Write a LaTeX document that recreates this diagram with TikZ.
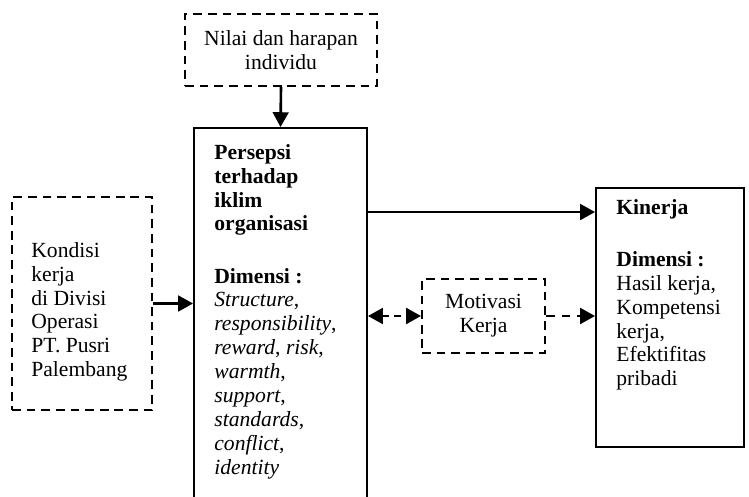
\documentclass[tikz,border=0pt]{standalone}
\usepackage{fontspec}
\setmainfont{Liberation Serif}
\usepackage{tikz}
\usetikzlibrary{
  arrows.meta,
  positioning,
  fit,
  calc
}
\tikzset{
  boxbase/.style={
    rectangle, inner sep=0pt, line width=1.1pt
  },
  solidbox/.style={boxbase, draw},
  dashbox/.style={boxbase, draw, dash pattern=on 5pt off 3.4pt},
  boxtext/.style={
    inner sep=0pt, align=left, font=\fontsize{12.4}{13.7}\selectfont
  },
  boxtextc/.style={boxtext, align=center},
  flow/.style={-{Triangle[length=8.5pt, width=9pt]}, line width=1.5pt},
  dflow/.style={flow, dash pattern=on 5pt off 4pt},
  ddflow/.style={{Triangle[length=8.5pt, width=9pt]}-{Triangle[length=8.5pt, width=9pt]}, line width=1.5pt, dash pattern=on 4pt off 3pt}
}

\begin{document}
\begin{tikzpicture}[x=0.574pt, y=-0.574pt]
  \path[use as bounding box, clip] (0,0) rectangle (749,497);
  % boxes
  \node[dashbox, fit={(185,14) (377,86)}] (nilai) {};
  \node[solidbox, fit={(194,128) (367,520)}] (persepsi) {};
  \node[dashbox, fit={(12,197) (152,410)}] (kondisi) {};
  \node[dashbox, fit={(422,279) (545,353)}] (motivasi) {};
  \node[solidbox, fit={(596,188) (744,447)}] (kinerja) {};
  % texts
  \node[boxtextc] (nilaitext) at (nilai.center) {Nilai dan harapan\\individu};
  \node[boxtext, anchor=north west] (persepsitext) at ([shift={(21,17)}]persepsi.north west)
    {\textbf{Persepsi}\\\textbf{terhadap}\\\textbf{iklim}\\\textbf{organisasi}\\[16.2pt]
     \textbf{Dimensi :}\\\textit{Structure},\\\textit{responsibility},\\\textit{reward}, \textit{risk},\\
     \textit{warmth},\\\textit{support},\\\textit{standards},\\\textit{conflict},\\\textit{identity}};
  \node[boxtext, anchor=north west] (kondisitext) at ([shift={(20,46)}]kondisi.north west)
    {Kondisi\\kerja\\di Divisi\\Operasi\\PT. Pusri\\Palembang};
  \node[boxtextc] (motivasitext) at (motivasi.center) {Motivasi\\Kerja};
  \node[boxtext, anchor=north west] (kinerjatext) at ([shift={(21,12)}]kinerja.north west)
    {\textbf{Kinerja}\\[16.2pt]\textbf{Dimensi :}\\Hasil kerja,\\Kompetensi\\kerja,\\Efektifitas\\pribadi};
  % connectors
  \coordinate (kinin) at ($(kinerja.north west)+(0,25)$);
  \draw[flow] (nilai.south) -- (persepsi.north);
  \draw[flow] (kondisi.east) -- (kondisi.east -| persepsi.west);
  \draw[flow] (persepsi.east |- kinin) -- (kinin);
  \draw[ddflow] (persepsi.east |- motivasi.west) -- (motivasi.west);
  \draw[dflow] (motivasi.east) -- (motivasi.east -| kinerja.west);
\end{tikzpicture}
\end{document}
